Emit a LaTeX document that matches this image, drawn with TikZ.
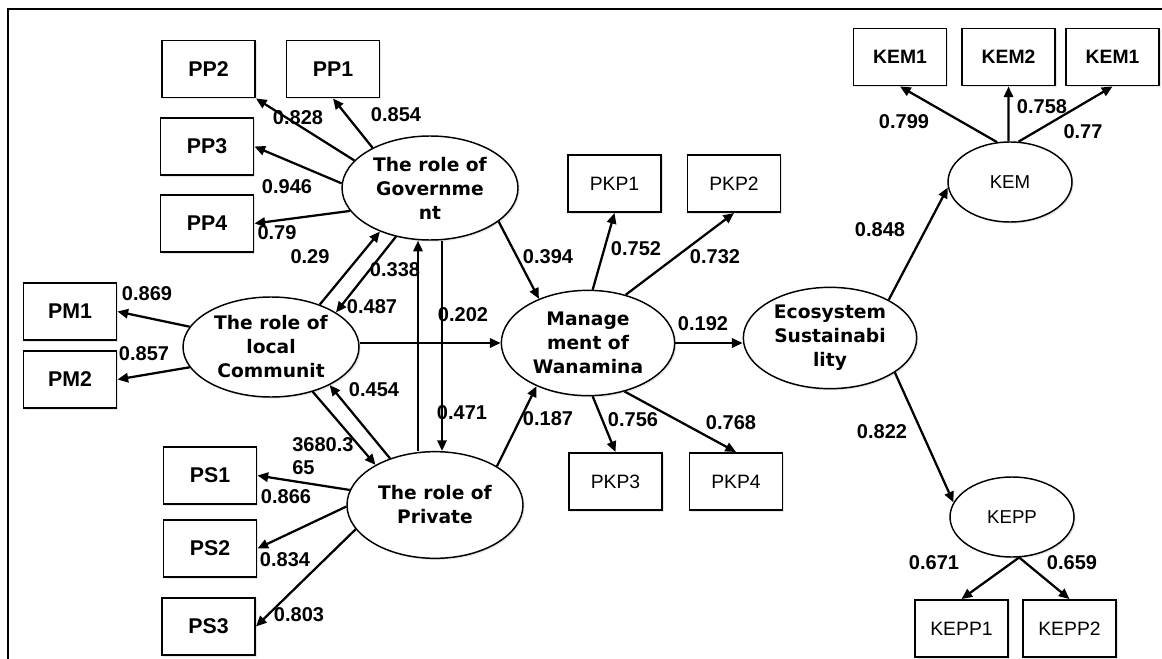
\documentclass[tikz,border=0pt]{standalone}
\usepackage{fontspec}
\setmainfont{Liberation Sans}
\newfontfamily\verdana{DejaVu Sans}
\usetikzlibrary{arrows.meta, shapes.geometric, shadows}

\begin{document}
\begin{tikzpicture}[x=0.75pt, y=-0.75pt, every node/.style={inner sep=0pt},
  shd/.style={drop shadow={opacity=0.2, shadow xshift=1.2pt, shadow yshift=-1.2pt}},
  ind/.style={draw, fill=white, shd, line width=1.2pt, minimum width=70pt, minimum height=43pt,
    font=\fontsize{16}{19}\selectfont\bfseries},
  indn/.style={ind, font=\fontsize{14.5}{18}\selectfont},
  lat/.style={draw, fill=white, shd, ellipse, line width=1.1pt, align=center,
    font=\verdana\fontsize{14}{18}\selectfont\bfseries},
  latn/.style={draw, fill=white, shd, ellipse, line width=1.1pt, minimum width=93pt, minimum height=60pt,
    font=\fontsize{14}{17}\selectfont},
  coef/.style={font=\fontsize{15}{17}\selectfont\bfseries},
  arr/.style={-{Triangle[length=8pt,width=7pt]}, line width=1.7pt}]
\useasboundingbox (0,0) rectangle (1162,659);
\draw[line width=0.8pt] (8,659) -- (8,9) -- (1162,9);

% latent variables
\node[lat, minimum width=132pt, minimum height=78pt] (gov) at (430,188) {The role of\\Governme\\nt};
\node[lat, minimum width=132pt, minimum height=75pt] (comm) at (271,347) {The role of\\local\\Communit};
\node[lat, minimum width=132pt, minimum height=80pt] (pri) at (435,505) {The role of\\Private};
\node[lat, minimum width=130pt, minimum height=79pt] (mgmt) at (588,343) {Manage\\ment of\\Wanamina};
\node[lat, minimum width=130pt, minimum height=76pt] (eco) at (830,338) {Ecosystem\\Sustainabi\\lity};
\node[latn] (kem) at (1010,182) {KEM};
\node[latn] (kepp) at (1012,517) {KEPP};

% indicators
\node[ind] (pp2) at (208.5,69) {PP2};
\node[ind] (pp1) at (333,69) {PP1};
\node[ind] (pp3) at (207,146.5) {PP3};
\node[ind] (pp4) at (207,223.5) {PP4};
\node[ind] (pm1) at (70,311.5) {PM1};
\node[ind] (pm2) at (70,379.5) {PM2};
\node[ind] (ps1) at (210,475.5) {PS1};
\node[ind] (ps2) at (210,548.5) {PS2};
\node[ind] (ps3) at (208.5,626.5) {PS3};
\node[indn] (pkp1) at (614.5,183.5) {PKP1};
\node[indn] (pkp2) at (734,183.5) {PKP2};
\node[indn] (pkp3) at (615.5,481.5) {PKP3};
\node[indn] (pkp4) at (736,481.5) {PKP4};
\node[ind, font=\fontsize{14.5}{18}\selectfont\bfseries] (kem1a) at (900,57) {KEM1};
\node[ind, font=\fontsize{14.5}{18}\selectfont\bfseries] (kem2) at (1008.5,57) {KEM2};
\node[ind, font=\fontsize{14.5}{18}\selectfont\bfseries] (kem1b) at (1112.5,57) {KEM1};
\node[indn] (kepp1) at (961.5,628.5) {KEPP1};
\node[indn] (kepp2) at (1069.5,628.5) {KEPP2};

% paths
\draw[arr] (gov.160) -- (pp2.south east);
\draw[arr] (gov.145) -- (pp1.south);
\draw[arr] (gov.177) -- (pp3.east);
\draw[arr] (gov.196) -- (pp4.east);
\draw[arr] (comm.166) -- (pm1.east);
\draw[arr] (comm.194) -- (pm2.east);
\draw[arr] (comm.41) -- (gov.221);
\draw[arr] (gov.235) -- (comm.28);
\draw[arr] ([xshift=-9pt]gov.south |- pri.north) -- ([xshift=-9pt]gov.south);
\draw[arr] ([xshift=9pt]gov.south) -- ([xshift=9pt]gov.south |- pri.north);
\draw[arr] (comm.east |- mgmt.west) -- (mgmt.west);
\draw[arr] (comm.-47) -- (pri.146);
\draw[arr] (pri.134) -- (comm.-33);
\draw[arr] (pri.170) -- (ps1.east);
\draw[arr] (pri.181) -- (ps2.east);
\draw[arr] (pri.197) -- (ps3.east);
\draw[arr] (gov.-26) -- (mgmt.138);
\draw[arr] (pri.32) -- (mgmt.220);
\draw[arr] (mgmt.85) -- (pkp1.south);
\draw[arr] (mgmt.52) -- (pkp2.south);
\draw[arr] (mgmt.-85) -- (pkp3.north);
\draw[arr] (mgmt.-53) -- (pkp4.north);
\draw[arr] (mgmt.east) -- (mgmt.east -| eco.west);
\draw[arr] (eco.33) -- (kem.185);
\draw[arr] (eco.-28) -- (kepp.166);
\draw[arr] (kem.108) -- (kem1a.south);
\draw[arr] (kem.92) -- (kem2.south);
\draw[arr] (kem.78) -- (kem1b.south);
\draw[arr] (kepp.-80) -- (kepp1.north);
\draw[arr] (kepp.-80) -- (kepp2.north);

% coefficients
\node[coef] (c-pp2) at (298,118) {0.828};
\node[coef] (c-pp1) at (396,115) {0.854};
\node[coef] (c-pp3) at (287,187) {0.946};
\node[coef] (c-pp4) at (277,233) {0.79};
\node[coef] (c-cg) at (310,257) {0.29};
\node[coef] (c-gc1) at (395,270) {0.338};
\node[coef] (c-gc2) at (372,307) {0.487};
\node[coef] (c-pm1) at (147,294) {0.869};
\node[coef] (c-pm2) at (144,354) {0.857};
\node[coef] (c-gp) at (463,315) {0.202};
\node[coef] (c-pg) at (462,413) {0.471};
\node[coef] (c-pc) at (374,390) {0.454};
\node[coef, align=left, anchor=west] (c-cp) at (292,456) {3680.3\\65};
\node[coef] (c-ps1) at (286,497) {0.866};
\node[coef] (c-ps2) at (285,560) {0.834};
\node[coef] (c-ps3) at (299,615) {0.803};
\node[coef] (c-gm) at (548,257) {0.394};
\node[coef] (c-pm) at (548,419) {0.187};
\node[coef] (c-pkp1) at (636,249) {0.752};
\node[coef] (c-pkp2) at (715,257) {0.732};
\node[coef] (c-pkp3) at (633,420) {0.756};
\node[coef] (c-pkp4) at (731,423) {0.768};
\node[coef] (c-me) at (703,324) {0.192};
\node[coef] (c-ek) at (880,230) {0.848};
\node[coef] (c-kem1a) at (904,122) {0.799};
\node[coef] (c-kem2) at (1042,107) {0.758};
\node[coef] (c-kem1b) at (1083,132) {0.77};
\node[coef] (c-ep) at (882,432) {0.822};
\node[coef] (c-kepp1) at (934,563) {0.671};
\node[coef] (c-kepp2) at (1072,563) {0.659};
\end{tikzpicture}
\end{document}
